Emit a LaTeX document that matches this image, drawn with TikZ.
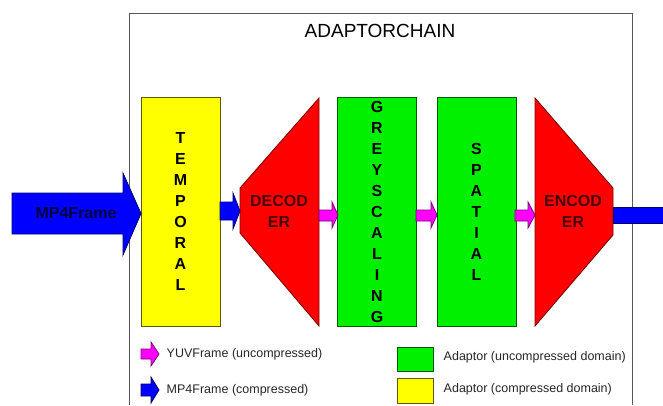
\documentclass[tikz,border=0pt]{standalone}
\usepackage{fontspec}
\setmainfont{Liberation Sans}
\usepackage{tikz}

\definecolor{adblue}{RGB}{0,0,255}
\definecolor{adblueline}{RGB}{0,0,110}
\definecolor{admagenta}{RGB}{255,0,255}
\definecolor{admagentaline}{RGB}{120,0,120}
\definecolor{adgreen}{RGB}{0,240,0}
\definecolor{adgreenline}{RGB}{0,90,0}
\definecolor{adyellow}{RGB}{255,255,0}
\definecolor{adyellowline}{RGB}{90,90,0}
\definecolor{adred}{RGB}{255,0,0}
\definecolor{adredline}{RGB}{120,0,0}
\definecolor{adredtext}{RGB}{70,0,0}

\begin{document}
\begin{tikzpicture}[x=1pt, y=-1pt, line width=0.8pt,
  yellowbox/.style={draw=adyellowline, fill=adyellow, minimum width=79pt, minimum height=229pt,
    inner sep=0pt, align=center, font=\fontsize{16}{21}\selectfont\bfseries},
  greenbox/.style={yellowbox, draw=adgreenline, fill=adgreen},
  coder/.style={draw=adredline, fill=adred},
  bluearrow/.style={draw=adblueline, fill=adblue},
  pinkarrow/.style={draw=admagentaline, fill=admagenta},
  legendtext/.style={anchor=west, font=\fontsize{12.5}{15}\selectfont, text=black!85}]

\useasboundingbox (0,0) rectangle (663,405);

% ============================
% Outer frame
% ============================
\draw[black!65] (129,405) -- (129,13) -- (632,13) -- (632,405);
\node[font=\fontsize{19}{23}\selectfont] (title) at (380,31) {ADAPTORCHAIN};

% ============================
% Adaptors
% ============================
\node[yellowbox] (temporal) at (180.5,211.5) {T\\E\\M\\P\\O\\R\\A\\L};
\node[greenbox]  (grey)     at (377,212)     {G\\R\\E\\Y\\S\\C\\A\\L\\I\\N\\G};
\node[greenbox]  (spatial)  at (476.5,212)   {S\\P\\A\\T\\I\\A\\L};

% Decoder and encoder
\draw[coder] (319,98) -- (240,188) -- (240,233) -- (319,326) -- cycle;
\node[align=center, text=adredtext, font=\fontsize{16}{21}\selectfont\bfseries] (decoder) at (279,211) {DECOD\\ER};

\draw[coder] (535,98) -- (613,188) -- (613,235) -- (535,326) -- cycle;
\node[align=center, text=adredtext, font=\fontsize{16}{21}\selectfont\bfseries] (encoder) at (573,211) {ENCOD\\ER};

% ============================
% Block arrows
% ============================
\draw[bluearrow] (12,193) -- (123,193) -- (123,173) -- (141,213.5)
  -- (123,255) -- (123,234) -- (12,234) -- cycle;
\node[text=adblueline!60!black, font=\fontsize{16}{19}\selectfont\bfseries] (mpin) at (76,213) {MP4Frame};

\draw[bluearrow] (220,202) -- (233,202) -- (233,193) -- (240,211)
  -- (233,229) -- (233,220) -- (220,220) -- cycle;

\draw[pinkarrow] (319,210) -- (332,210) -- (332,202) -- (338,215)
  -- (332,228) -- (332,221) -- (319,221) -- cycle;
\draw[pinkarrow] (416,210) -- (431,210) -- (431,202) -- (437,215)
  -- (431,228) -- (431,221) -- (416,221) -- cycle;
\draw[pinkarrow] (515,210) -- (528,210) -- (528,202) -- (535,215)
  -- (528,228) -- (528,221) -- (515,221) -- cycle;

% output
\fill[adblue] (613,207) rectangle (663,223);
\draw[adblueline] (663,207) -- (613,207) -- (613,223) -- (663,223);

% ============================
% Legend
% ============================
\draw[pinkarrow] (141,349) -- (151,349) -- (151,342) -- (159,354)
  -- (151,366) -- (151,359) -- (141,359) -- cycle;
\node[legendtext] (yuvlabel) at (163,354) {YUVFrame (uncompressed)};

\draw[bluearrow] (141,384) -- (151,384) -- (151,377) -- (159,390)
  -- (151,403) -- (151,396) -- (141,396) -- cycle;
\node[legendtext] (mplabel) at (163,390) {MP4Frame (compressed)};

\draw[draw=adgreenline, fill=adgreen] (397,347) rectangle (433,371);
\node[legendtext] (greenlabel) at (440,357) {Adaptor (uncompressed domain)};

\draw[draw=adyellowline, fill=adyellow] (397,378) rectangle (433,403);
\node[legendtext] (yellowlabel) at (440,389) {Adaptor (compressed domain)};

\end{tikzpicture}
\end{document}
